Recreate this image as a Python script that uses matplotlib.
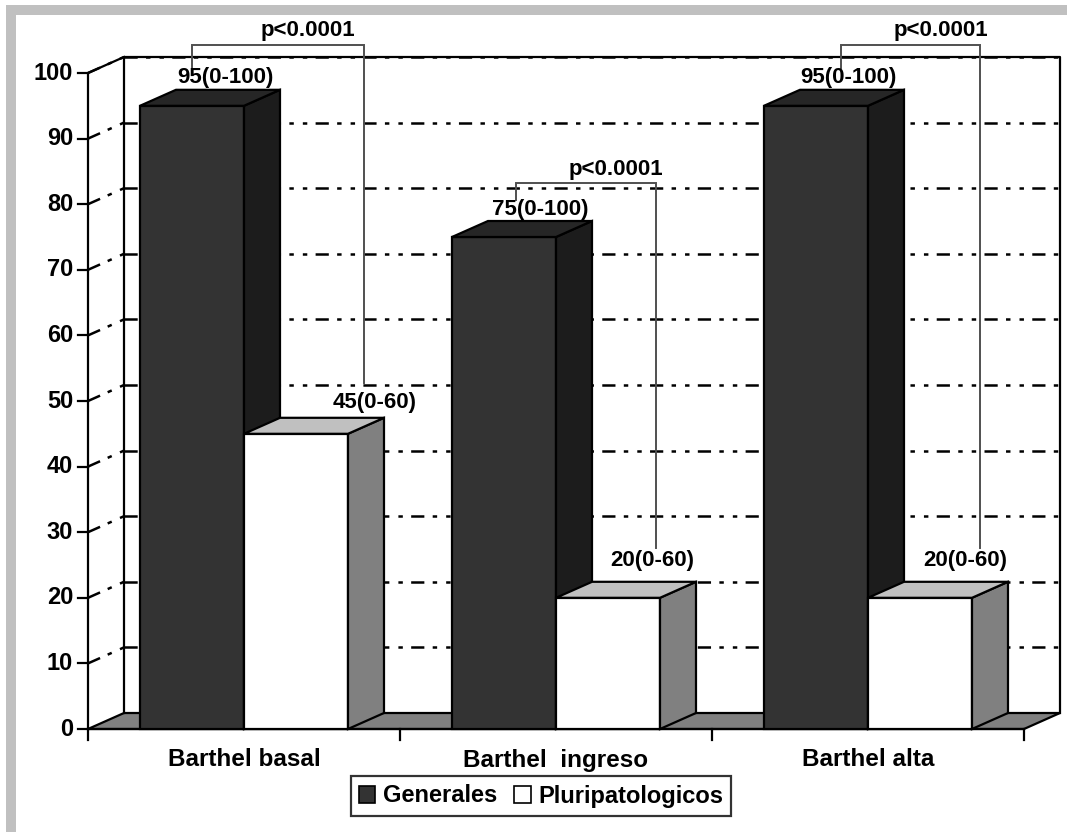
import matplotlib
matplotlib.use('Agg')
import matplotlib.pyplot as plt
from matplotlib.patches import Polygon, Patch, Rectangle

# datos del grafico
categories = ['Barthel basal', 'Barthel  ingreso', 'Barthel alta']
series_names = ['Generales', 'Pluripatologicos']
generales = [95, 75, 95]
pluripatologicos = [45, 20, 20]
labels_gen = ['95(0-100)', '75(0-100)', '95(0-100)']
labels_plu = ['45(0-60)', '20(0-60)', '20(0-60)']
p_labels = ['p<0.0001', 'p<0.0001', 'p<0.0001']
yticks = list(range(0, 101, 10))

plt.rcParams['font.family'] = ['Liberation Sans', 'DejaVu Sans']
plt.rcParams['font.weight'] = 'bold'
plt.rcParams['lines.scale_dashes'] = False

W, H = 1067, 832
fig = plt.figure(figsize=(W / 100, H / 100), dpi=100)
ax = fig.add_axes([0, 0, 1, 1])

# escala: categoria = 312 px, 10 unidades = 65.6 px
CAT_PX = 312.0
UNIT_PX = 6.56
X0_PX, Y0_PX = 88, H - 729
ax.set_xlim(-X0_PX / CAT_PX, (W - X0_PX) / CAT_PX)
ax.set_ylim(-Y0_PX / UNIT_PX, (H - Y0_PX) / UNIT_PX)
ax.axis('off')

DX = 36 / CAT_PX   # profundidad 3D
DY = 16 / UNIT_PX
px_x = 1 / CAT_PX
px_y = 1 / UNIT_PX
ncat = len(categories)
ymax = yticks[-1]

grid_dash = (0, (9.5, 6.0, 3.2, 6.5, 3.2, 6.0))

# pared lateral y trasera
ax.add_patch(Polygon([(0, 0), (DX, DY), (DX, ymax + DY), (0, ymax)],
                     closed=True, fc='white', ec='none', zorder=0))
ax.add_patch(Rectangle((DX, DY), ncat, ymax, fc='white', ec='none', zorder=0))

for v in yticks:
    ax.plot([DX, ncat + DX], [v + DY, v + DY], color='black', lw=1.8,
            ls=grid_dash, zorder=1)
    if v > 0:
        ax.plot([0, DX], [v, v + DY], color='black', lw=1.8, ls=grid_dash, zorder=1)
    # marcas del eje y
    ax.plot([-10 * px_x, 0], [v, v], color='black', lw=1.6, zorder=2)
    ax.text(-15 * px_x, v, str(v), ha='right', va='center', fontsize=17, zorder=2)

# suelo
ax.add_patch(Polygon([(0, 0), (ncat, 0), (ncat + DX, DY), (DX, DY)],
                     closed=True, fc='#808080', ec='black', lw=1.6, zorder=2))

# bordes de las paredes
ax.plot([DX, DX, ncat + DX, ncat + DX], [DY, ymax + DY, ymax + DY, DY],
        color='black', lw=1.6, zorder=2)
ax.plot([0, 0, DX], [0, ymax, ymax + DY], color='black', lw=1.6, zorder=2)
ax.plot([0, ncat], [0, 0], color='black', lw=1.6, zorder=2)
for i in range(ncat + 1):
    ax.plot([i, i], [0, -11 * px_y], color='black', lw=1.6, zorder=2)

for i, c in enumerate(categories):
    ax.text(i + 0.5, -31 * px_y, c, ha='center', va='center', fontsize=17.5)

# barras 3D
styles = [('#333333', '#1c1c1c', '#262626'), ('white', '#808080', '#c0c0c0')]
bw = 1 / 3
z = 3
for i in range(ncat):
    for j, vals in enumerate([generales, pluripatologicos]):
        front, side, top = styles[j]
        x = i + 1 / 6 + j * bw
        h = vals[i]
        ax.bar(x, h, bw, align='edge', color=front, edgecolor='black',
               linewidth=1.6, zorder=z)
        ax.add_patch(Polygon([(x + bw, 0), (x + bw + DX, DY), (x + bw + DX, h + DY), (x + bw, h)],
                             closed=True, fc=side, ec='black', lw=1.6, zorder=z))
        ax.add_patch(Polygon([(x, h), (x + bw, h), (x + bw + DX, h + DY), (x + DX, h + DY)],
                             closed=True, fc=top, ec='black', lw=1.6, zorder=z))
        z += 1

# etiquetas de datos
gen_off = [(33, 12), (36, 12), (32, 12)]
plu_off = [(79, 15), (44, 21), (45, 21)]
for i in range(ncat):
    xc = i + 1 / 6 + bw / 2
    ax.text(xc + gen_off[i][0] * px_x, generales[i] + DY + gen_off[i][1] * px_y,
            labels_gen[i], ha='center', va='center', fontsize=16, zorder=20)
    xc = i + 1 / 6 + bw * 1.5
    ax.text(xc + plu_off[i][0] * px_x, pluripatologicos[i] + DY + plu_off[i][1] * px_y,
            labels_plu[i], ha='center', va='center', fontsize=16, zorder=20)

# corchetes de significacion
brackets = [(0.333, 0.885, 104.3, 100.8, 52.7),
            (1.372, 1.821, 83.2, 80.6, 27.6),
            (2.413, 2.859, 104.3, 100.8, 27.6)]
for (xl, xr, yt, yl, yr), pl in zip(brackets, p_labels):
    ax.plot([xl, xl, xr, xr], [yl, yt, yt, yr], color='#505050', lw=1.4,
            zorder=15, solid_joinstyle='miter')
    ax.text((xl + xr) / 2 + 30 * px_x, yt + 14 * px_y, pl, ha='center', va='center',
            fontsize=16, zorder=20)

# leyenda
handles = [Patch(fc='#333333', ec='black', lw=1.2), Patch(fc='white', ec='black', lw=1.2)]
leg = ax.legend(handles, series_names, loc='center',
                bbox_to_anchor=(541 / W, 1 - 796 / H), bbox_transform=fig.transFigure,
                ncol=2, frameon=True, fancybox=False, edgecolor='black',
                handlelength=0.7, handleheight=0.7, handletextpad=0.3,
                columnspacing=0.75, borderpad=0.35, fontsize=17)
leg.get_frame().set_linewidth(1.6)

# marco gris exterior
fig.patches.append(Rectangle((6 / W, 0), 10 / W, (H - 5) / H, transform=fig.transFigure,
                             fc='#c0c0c0', ec='none'))
fig.patches.append(Rectangle((6 / W, (H - 15) / H), (W - 6) / W, 10 / H,
                             transform=fig.transFigure, fc='#c0c0c0', ec='none'))

fig.savefig('out.png', dpi=100)
